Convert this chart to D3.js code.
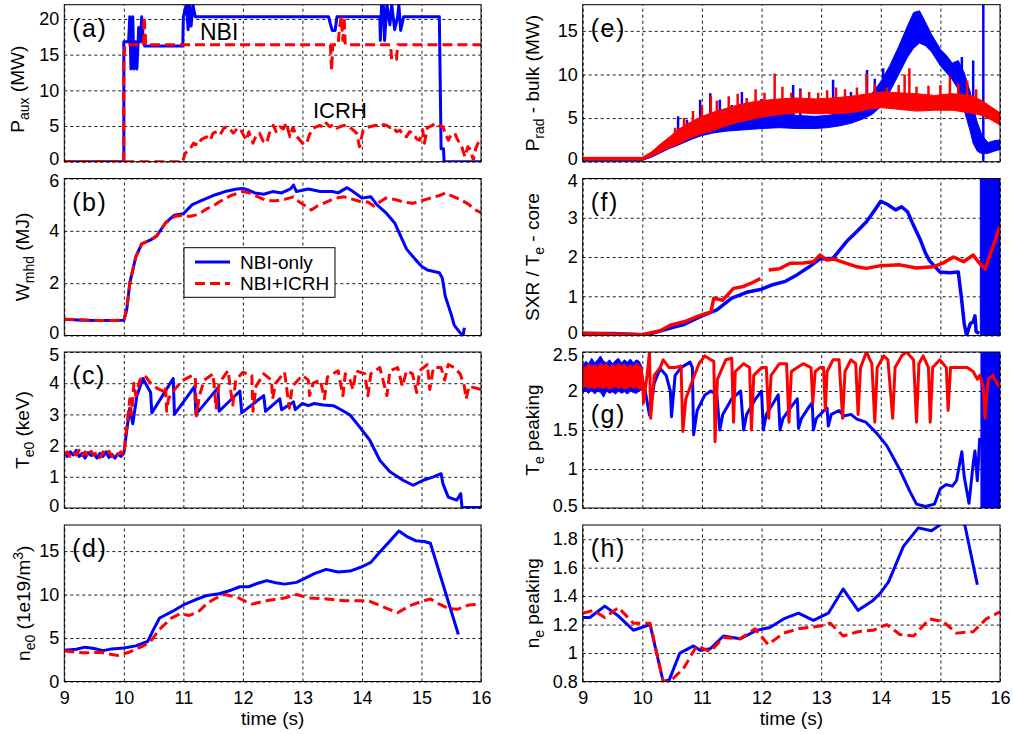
<!DOCTYPE html>
<html>
<head>
<meta charset="utf-8">
<script src="https://cdn.jsdelivr.net/npm/d3@7"></script>
<style>
  body { margin: 0; background: #fff; }
  svg text { font-family: "Liberation Sans", Arial, sans-serif; fill: #000; }
</style>
</head>
<body>
<svg id="fig" width="1013" height="734"></svg>
<script>
const BLUE = "#0000ff", RED = "#ff0000";
const FONT = "Liberation Sans, Arial, sans-serif";

// time axis (s)
const tTicks = [9, 10, 11, 12, 13, 14, 15, 16];

// ---- (a) P_aux ----
const aNbiOnly = [[9,0],[10,0],[10,16.8],[10.08,16.8],[10.1,20.3],[10.12,13],[10.15,20.3],[10.17,13],[10.2,16.8],[10.22,13],[10.25,18.8],[10.28,16.8],[10.3,20.3],[10.33,16.8],[10.35,16.2],[10.99,16.2],[11.0,20.3],[11.05,22],[11.08,18.5],[11.1,22],[11.13,19],[11.16,22],[11.2,20.3],[13.44,20.3],[13.47,19.3],[13.5,18.4],[13.55,18.4],[13.58,20.3],[14.3,20.3],[14.31,17],[14.33,22],[14.36,22],[14.38,17],[14.42,22],[14.47,19.2],[14.5,22],[14.55,18.5],[14.6,20.3],[14.62,22],[14.65,18.4],[14.7,20.3],[15.3,20.3],[15.33,1.8],[15.37,1.8],[15.38,0],[16,0]];
const aNbiIcrh = [[9,0],[10,0],[10,14.3],[10.02,16.4],[10.33,16.4],[10.34,20.3],[10.37,16.4],[13.47,16.4],[13.49,12.8],[13.51,16.4],[13.6,16.4],[13.62,18.5],[13.65,20.3],[13.68,17.0],[13.7,20.3],[13.72,16.4],[14.48,16.4],[14.5,14.3],[14.58,14.3],[14.6,16.4],[16,16.4]];
const aIcrh = [[9,0],[10.99,0],[11.03,1.2],[11.1,1.6],[11.17,2.6],[11.25,2.3],[11.3,3.1],[11.39,3.5],[11.45,3.0],[11.5,4.0],[11.56,4.2],[11.62,3.8],[11.68,4.7],[11.73,4.9],[11.79,4.5],[11.84,4.0],[11.9,4.6],[11.95,4.7],[12.0,3.9],[12.06,3.0],[12.1,4.2],[12.17,2.6],[12.22,3.6],[12.28,4.0],[12.34,2.9],[12.4,2.6],[12.45,4.1],[12.51,5.1],[12.56,4.2],[12.62,4.9],[12.68,4.6],[12.73,5.4],[12.79,3.5],[12.84,4.8],[12.9,3.6],[12.96,3.0],[13.02,2.4],[13.07,2.6],[13.12,3.8],[13.18,4.7],[13.24,4.9],[13.29,5.1],[13.35,4.8],[13.4,5.4],[13.46,4.9],[13.52,5.2],[13.58,4.7],[13.63,4.9],[13.7,5.1],[13.75,4.8],[13.8,4.8],[13.86,4.4],[13.91,4.0],[13.96,2.1],[14.02,4.4],[14.08,4.8],[14.13,4.9],[14.18,5.0],[14.24,5.1],[14.3,4.9],[14.36,5.2],[14.41,5.1],[14.47,4.8],[14.52,4.9],[14.58,4.2],[14.64,4.4],[14.7,3.6],[14.75,3.5],[14.8,4.2],[14.86,4.0],[14.92,3.2],[14.97,3.0],[15.02,4.5],[15.05,2.6],[15.1,4.8],[15.14,4.9],[15.2,5.2],[15.25,5.4],[15.3,5.0],[15.36,4.9],[15.4,4.0],[15.45,3.0],[15.5,3.8],[15.56,4.0],[15.6,3.2],[15.64,2.6],[15.68,2.0],[15.73,0.7],[15.78,2.1],[15.83,1.6],[15.87,0.2],[15.91,1.8],[15.95,2.6],[16,2.9]];

// ---- (b) W_mhd ----
const bNbiOnly = [[9,0.62],[9.3,0.58],[9.6,0.57],[10,0.58],[10.05,1.0],[10.1,2.0],[10.2,3.0],[10.3,3.5],[10.45,3.65],[10.55,3.8],[10.7,4.3],[10.85,4.6],[11.0,4.65],[11.15,5.0],[11.3,5.15],[11.5,5.35],[11.7,5.5],[11.9,5.6],[12.0,5.62],[12.1,5.55],[12.2,5.45],[12.35,5.4],[12.5,5.5],[12.65,5.45],[12.8,5.6],[12.85,5.75],[12.9,5.5],[13.0,5.55],[13.1,5.6],[13.3,5.5],[13.5,5.5],[13.6,5.45],[13.75,5.65],[13.85,5.5],[14.0,5.25],[14.15,5.3],[14.25,5.0],[14.4,4.7],[14.55,4.3],[14.65,3.8],[14.75,3.3],[14.9,2.9],[15.0,2.65],[15.1,2.5],[15.3,2.4],[15.35,2.2],[15.4,1.5],[15.5,0.8],[15.55,0.4],[15.65,0.1],[15.7,0.0],[15.72,0.3]];
const bNbiIcrh = [[9,0.62],[9.3,0.6],[9.6,0.57],[10,0.58],[10.05,1.0],[10.1,2.0],[10.2,3.0],[10.3,3.5],[10.45,3.65],[10.55,3.8],[10.7,4.3],[10.85,4.55],[11.0,4.6],[11.1,4.55],[11.2,4.6],[11.3,4.7],[11.4,4.85],[11.5,4.95],[11.6,5.1],[11.8,5.35],[12.0,5.5],[12.1,5.45],[12.2,5.35],[12.3,5.25],[12.4,5.15],[12.55,5.15],[12.7,5.2],[12.85,5.3],[12.95,5.1],[13.05,4.95],[13.15,4.8],[13.25,4.95],[13.4,5.1],[13.55,5.25],[13.7,5.3],[13.85,5.2],[14.0,5.1],[14.1,5.1],[14.2,4.95],[14.3,5.1],[14.4,5.25],[14.55,5.2],[14.7,5.1],[14.85,5.05],[15.0,5.15],[15.15,5.25],[15.3,5.35],[15.4,5.45],[15.5,5.35],[15.65,5.2],[15.8,5.0],[15.9,4.8],[16.0,4.7]];

// ---- (c) T_e0 ----
const cNbiOnly = [[9,1.75],[9.05,1.65],[9.1,1.8],[9.15,1.7],[9.2,1.85],[9.25,1.65],[9.3,1.75],[9.35,1.6],[9.4,1.78],[9.45,1.68],[9.5,1.72],[9.55,1.6],[9.6,1.75],[9.65,1.65],[9.7,1.8],[9.75,1.62],[9.8,1.72],[9.85,1.6],[9.9,1.74],[9.95,1.65],[10.0,1.75],[10.05,2.5],[10.1,3.2],[10.15,2.7],[10.22,3.6],[10.32,4.15],[10.45,3.7],[10.47,3.05],[10.83,4.15],[10.85,3.0],[11.19,3.9],[11.21,3.0],[11.58,3.85],[11.6,3.1],[11.95,3.75],[11.98,3.05],[12.35,3.6],[12.38,3.1],[12.62,3.5],[12.65,3.15],[12.85,3.4],[12.88,3.15],[13.0,3.35],[13.1,3.28],[13.2,3.35],[13.35,3.3],[13.52,3.28],[13.65,3.15],[13.8,2.98],[13.96,2.6],[14.13,2.18],[14.3,1.53],[14.47,1.16],[14.69,0.89],[14.86,0.73],[15.03,0.89],[15.2,1.0],[15.33,1.1],[15.36,0.78],[15.45,0.35],[15.59,0.25],[15.66,0.46],[15.68,0.02],[16,0.02]];
const cNbiIcrh = [[9,1.7],[9.05,1.8],[9.1,1.65],[9.15,1.78],[9.2,1.7],[9.25,1.85],[9.3,1.68],[9.35,1.8],[9.4,1.65],[9.45,1.82],[9.5,1.7],[9.55,1.78],[9.6,1.62],[9.65,1.8],[9.7,1.7],[9.75,1.82],[9.8,1.65],[9.85,1.78],[9.9,1.7],[9.95,1.8],[10.0,1.7],[10.05,2.6],[10.1,3.5],[10.13,3.0],[10.17,4.0],[10.2,3.6],[10.27,4.1],[10.35,4.25],[10.45,4.0],[10.55,3.85],[10.65,3.75],[10.7,3.9],[10.72,3.1],[10.75,3.5],[10.85,3.8],[11.0,4.1],[11.15,4.25],[11.2,4.2],[11.22,2.95],[11.27,3.6],[11.35,4.1],[11.5,4.3],[11.55,3.2],[11.6,4.0],[11.75,4.4],[11.83,3.3],[11.88,4.1],[12.0,4.35],[12.15,4.25],[12.17,3.1],[12.22,3.9],[12.35,4.3],[12.48,4.1],[12.5,3.5],[12.55,4.0],[12.7,4.35],[12.78,3.2],[12.83,3.9],[13.0,4.25],[13.1,4.1],[13.12,3.6],[13.18,4.0],[13.3,4.1],[13.37,3.5],[13.42,4.2],[13.6,4.4],[13.68,3.6],[13.72,4.3],[13.8,4.1],[13.85,3.8],[13.9,4.4],[14.05,4.3],[14.1,3.6],[14.15,4.3],[14.3,4.5],[14.42,3.6],[14.47,4.4],[14.6,4.5],[14.68,3.9],[14.75,4.4],[14.85,4.3],[14.92,3.7],[14.97,4.4],[15.1,4.6],[15.14,3.8],[15.2,4.5],[15.33,4.5],[15.39,4.1],[15.45,4.6],[15.55,4.5],[15.65,4.3],[15.72,3.9],[15.75,3.5],[15.8,3.9],[15.9,3.85],[16,3.8]];

// ---- (d) n_e0 ----
const dNbiOnly = [[9.0,3.6],[9.2,3.7],[9.35,3.95],[9.5,3.8],[9.65,3.55],[9.8,3.75],[10.0,3.85],[10.2,4.1],[10.4,4.6],[10.5,6.0],[10.6,7.3],[10.8,8.0],[11.0,8.8],[11.2,9.4],[11.4,9.9],[11.6,10.1],[11.8,10.5],[11.95,10.9],[12.1,10.9],[12.25,11.3],[12.4,11.6],[12.55,11.35],[12.7,11.2],[12.9,11.4],[13.05,11.9],[13.2,12.4],[13.4,12.9],[13.6,12.6],[13.8,12.7],[14.0,13.2],[14.15,13.7],[14.3,14.9],[14.45,16.0],[14.62,17.3],[14.75,16.7],[14.9,16.2],[15.05,16.1],[15.15,15.9],[15.62,5.4]];
const dNbiIcrh = [[9.0,3.5],[9.3,3.3],[9.6,3.35],[9.9,3.0],[10.1,3.4],[10.3,4.0],[10.45,4.6],[10.6,6.0],[10.8,7.3],[10.95,7.8],[11.1,7.6],[11.25,8.0],[11.4,9.0],[11.55,9.6],[11.7,10.0],[11.9,9.7],[12.05,9.2],[12.15,8.9],[12.4,9.3],[12.7,9.6],[12.9,10.0],[13.1,9.6],[13.4,9.5],[13.7,9.3],[14.1,9.3],[14.35,8.6],[14.6,7.9],[14.8,8.7],[15.0,9.2],[15.15,9.5],[15.3,8.9],[15.45,8.4],[15.6,8.3],[15.8,8.8],[16.0,8.9]];

// ---- (e) P_rad bulk : [t, low, high] envelopes and spikes ----
const eNbiBand = [[9,0.15,0.45],[10,0.15,0.45],[10.15,0.5,1.0],[10.3,1.0,1.9],[10.45,1.5,2.6],[10.6,1.9,3.4],[10.8,2.5,4.0],[11.0,3.0,4.5],[11.2,3.3,4.8],[11.4,3.5,5.0],[11.6,3.6,5.2],[11.8,3.7,5.3],[12.0,3.8,5.5],[12.3,3.9,5.6],[12.6,3.8,5.3],[12.9,3.8,5.2],[13.1,3.9,5.3],[13.3,4.1,5.5],[13.5,4.4,5.9],[13.7,4.9,6.8],[13.85,5.4,7.8],[14.0,6.3,9.2],[14.15,8.0,11.0],[14.3,10.0,13.2],[14.45,12.0,15.6],[14.55,13.0,17.1],[14.65,13.6,17.3],[14.75,13.3,16.0],[14.85,12.6,14.6],[15.0,11.0,12.9],[15.1,10.2,12.2],[15.2,9.4,11.3],[15.3,8.3,11.6],[15.4,5.9,10.2],[15.5,3.5,8.0],[15.55,2.1,6.2],[15.62,1.2,4.5],[15.7,0.9,3.0],[15.8,0.96,2.2],[15.9,1.2,2.4],[16,1.4,2.5]];
const eIcrhBand = [[9,0.2,0.5],[10,0.2,0.5],[10.15,0.6,1.1],[10.3,1.1,2.0],[10.45,1.6,2.8],[10.6,2.0,3.7],[10.8,2.7,4.5],[11.0,3.2,5.2],[11.2,3.6,5.7],[11.4,4.1,6.1],[11.6,4.5,6.5],[11.8,4.8,6.8],[12.0,5.1,7.0],[12.3,5.4,7.2],[12.6,5.6,7.3],[12.9,5.5,7.2],[13.2,5.5,7.3],[13.5,5.6,7.5],[13.8,6.0,7.8],[14.0,6.2,8.0],[14.3,6.0,7.9],[14.6,5.8,7.8],[14.9,5.9,7.6],[15.2,5.9,7.8],[15.5,5.6,7.6],[15.7,5.3,7.0],[15.85,4.8,6.3],[16,4.2,5.6]];
const eNbiSpikes = [[10.6,3,5.2],[10.75,3.5,4.8],[10.97,4,7.1],[11.14,4.5,7.85],[11.3,4.5,7.1],[11.5,4.8,6.5],[11.67,5,8.0],[12.0,5,7.2],[12.53,5,8.8],[12.65,5,8.4],[13.2,5,9.4],[13.5,5.5,8.0],[13.77,6,10.5],[13.9,6,9.5],[14.04,8,10.7],[15.36,10,12.0],[15.55,6,11.6],[15.72,0,18.5]];
const eIcrhSpikes = [[10.55,2.5,3.9],[10.7,3,5.0],[10.85,3.5,5.8],[11.0,4,6.5],[11.15,4.5,7.5],[11.25,4.5,7.0],[11.45,5,7.5],[11.6,5,7.8],[11.75,5.5,7.3],[11.9,5.5,8.3],[12.05,6,7.9],[12.22,6,10.1],[12.35,6,8.6],[12.5,6,7.9],[12.65,6,8.2],[12.8,6,8.0],[12.95,6,7.9],[13.1,6,8.2],[13.25,6,8.5],[13.4,6,8.3],[13.6,6,8.5],[13.76,6.5,10.1],[13.9,6.5,8.9],[14.1,6.5,8.5],[14.3,6.5,8.8],[14.4,6.5,10.0],[14.48,6.5,10.7],[14.6,6.5,8.6],[14.8,6.5,8.7],[15.0,6.5,8.8],[15.16,6.5,9.7],[15.3,6.5,9.0],[15.45,6.5,9.3],[15.6,6.5,8.3]];

// ---- (f) SXR / Te core ----
const fNbiOnly = [[9,0.05],[9.5,0.05],[10,0.02],[10.15,0.05],[10.5,0.2],[10.7,0.28],[11.0,0.5],[11.25,0.65],[11.5,0.95],[11.75,1.1],[12.0,1.18],[12.2,1.3],[12.4,1.38],[12.6,1.55],[12.8,1.75],[12.98,1.95],[13.2,1.97],[13.43,2.4],[13.6,2.65],[13.76,2.9],[13.9,3.2],[14.0,3.42],[14.1,3.35],[14.25,3.2],[14.35,3.28],[14.45,3.15],[14.55,2.8],[14.66,2.45],[14.75,2.1],[14.82,1.9],[14.99,1.62],[15.15,1.6],[15.3,1.62],[15.35,1.0],[15.4,0.3],[15.44,0.0],[15.5,0.3],[15.55,0.35],[15.58,0.5],[15.6,0.1],[15.65,0.05]];
const fNbiIcrh = [[9,0.06],[9.5,0.04],[10,0.02],[10.3,0.12],[10.47,0.26],[10.7,0.35],[10.97,0.51],[11.15,0.6],[11.2,0.95],[11.35,0.9],[11.53,1.2],[11.7,1.25],[11.85,1.35],[11.98,1.45],[12.05,null],[12.12,1.67],[12.3,1.7],[12.48,1.84],[12.7,1.85],[12.87,1.88],[12.98,2.05],[13.1,1.92],[13.2,1.95],[13.4,1.85],[13.6,1.75],[13.76,1.71],[14.0,1.78],[14.32,1.8],[14.6,1.72],[14.88,1.75],[15.05,1.85],[15.22,2.0],[15.39,1.88],[15.55,2.05],[15.65,1.85],[15.75,1.69],[15.89,2.3],[16,2.78]];
const fNbiBurst = [[15.67,0,4.1],[16,0,4.1]];

// ---- (g) Te peaking ----
const gNbiNoise = [[9,1.98,2.32],[9.05,2.0,2.38],[9.1,1.97,2.35],[9.15,2.01,2.42],[9.2,1.96,2.36],[9.25,2.0,2.4],[9.3,1.98,2.45],[9.35,1.92,2.38],[9.4,2.0,2.36],[9.45,1.97,2.4],[9.5,1.99,2.35],[9.55,1.96,2.39],[9.6,2.0,2.42],[9.65,1.97,2.36],[9.7,1.99,2.4],[9.75,1.96,2.37],[9.8,2.0,2.41],[9.85,1.98,2.36],[9.9,1.97,2.4],[9.95,2.0,2.38],[10,2.02,2.3]];
const gIcrhNoise = [[9,2.04,2.33],[9.05,2.06,2.3],[9.1,2.03,2.35],[9.15,2.05,2.31],[9.2,2.02,2.34],[9.25,2.06,2.3],[9.3,2.04,2.36],[9.35,2.03,2.32],[9.4,2.05,2.35],[9.45,2.02,2.3],[9.5,2.04,2.34],[9.55,2.06,2.31],[9.6,2.03,2.36],[9.65,2.05,2.32],[9.7,2.02,2.35],[9.75,2.04,2.3],[9.8,2.06,2.34],[9.85,2.03,2.31],[9.9,2.05,2.36],[9.95,2.02,2.33],[10,2.05,2.3]];
const gNbiOnly = [[10.0,2.15],[10.05,2.0],[10.12,1.69],[10.2,2.1],[10.3,2.29],[10.4,2.2],[10.47,2.0],[10.49,1.67],[10.55,2.2],[10.65,2.3],[10.8,2.37],[10.84,2.3],[10.86,1.44],[10.92,1.75],[11.05,1.95],[11.15,2.0],[11.25,1.95],[11.3,1.5],[11.35,1.7],[11.5,1.9],[11.65,2.0],[11.7,1.5],[11.75,1.7],[11.9,1.9],[12.0,2.0],[12.03,1.5],[12.08,1.7],[12.2,1.85],[12.28,1.95],[12.31,1.5],[12.36,1.65],[12.5,1.8],[12.6,1.9],[12.62,1.52],[12.67,1.65],[12.8,1.8],[12.85,1.85],[12.87,1.5],[12.92,1.65],[13.05,1.75],[13.1,1.78],[13.12,1.55],[13.17,1.7],[13.3,1.75],[13.38,1.68],[13.5,1.7],[13.6,1.64],[13.75,1.6],[13.93,1.46],[14.1,1.3],[14.32,0.99],[14.49,0.71],[14.6,0.55],[14.75,0.52],[14.9,0.55],[15.0,0.75],[15.1,0.8],[15.2,0.78],[15.27,0.85],[15.36,1.22],[15.4,0.9],[15.48,0.56],[15.55,1.07],[15.58,1.23],[15.62,0.85],[15.66,1.4]];
const gNbiIcrh = [[10.0,2.2],[10.02,1.85],[10.08,2.2],[10.12,2.5],[10.14,1.65],[10.2,2.2],[10.3,2.3],[10.35,2.4],[10.45,2.3],[10.55,2.3],[10.65,2.32],[10.68,1.48],[10.73,1.9],[10.85,2.15],[10.95,2.35],[11.05,2.45],[11.15,2.4],[11.2,2.38],[11.22,1.35],[11.26,2.15],[11.4,2.4],[11.5,2.42],[11.53,1.6],[11.56,2.25],[11.7,2.35],[11.8,2.3],[11.83,1.5],[11.87,2.2],[12.0,2.3],[12.08,2.3],[12.12,1.65],[12.16,2.2],[12.3,2.35],[12.42,2.35],[12.46,1.6],[12.5,2.25],[12.6,2.3],[12.7,2.35],[12.83,2.3],[12.86,1.85],[12.9,2.25],[12.98,2.3],[13.04,2.3],[13.07,1.75],[13.1,2.25],[13.2,2.4],[13.3,2.4],[13.36,1.65],[13.4,2.25],[13.5,2.4],[13.58,2.35],[13.62,1.7],[13.66,2.3],[13.76,2.5],[13.85,2.35],[13.9,1.6],[13.94,2.3],[14.05,2.45],[14.12,2.4],[14.2,1.65],[14.24,2.3],[14.35,2.45],[14.43,2.5],[14.55,2.4],[14.6,1.6],[14.64,2.35],[14.71,2.45],[14.8,2.3],[14.83,1.6],[14.87,2.3],[14.99,2.4],[15.1,2.3],[15.13,1.75],[15.17,2.3],[15.3,2.3],[15.45,2.3],[15.55,2.25],[15.62,2.15],[15.66,2.2],[15.72,2.05],[15.75,1.65],[15.8,2.15],[15.88,2.2],[15.95,2.1],[16,2.05]];
const gNbiBurst = [[15.68,0.5,2.5],[16,0.5,2.5]];

// ---- (h) ne peaking ----
const hNbiOnly = [[9.0,1.25],[9.12,1.25],[9.37,1.33],[9.6,1.26],[9.85,1.16],[10.13,1.2],[10.35,0.8],[10.45,0.81],[10.63,1.0],[10.86,1.05],[10.97,1.02],[11.14,1.03],[11.36,1.12],[11.64,1.1],[11.92,1.16],[12.14,1.18],[12.37,1.24],[12.62,1.28],[12.87,1.23],[13.12,1.28],[13.37,1.45],[13.62,1.3],[13.87,1.37],[13.99,1.42],[14.13,1.5],[14.38,1.75],[14.63,1.88],[14.85,1.86],[14.99,1.9],[15.2,1.96],[15.41,1.9],[15.62,1.48]];
const hNbiIcrh = [[9.0,1.28],[9.18,1.3],[9.37,1.25],[9.6,1.32],[9.85,1.21],[10.13,1.21],[10.35,0.8],[10.46,0.8],[10.69,0.89],[10.91,1.05],[11.14,1.01],[11.36,1.11],[11.64,1.1],[11.89,1.17],[12.11,1.06],[12.37,1.14],[12.62,1.17],[12.98,1.19],[13.15,1.21],[13.37,1.12],[13.62,1.15],[13.87,1.16],[14.1,1.2],[14.32,1.13],[14.55,1.12],[14.82,1.24],[15.05,1.22],[15.27,1.14],[15.55,1.15],[15.77,1.24],[16.0,1.29]];

// panel layout
const colX = [[64.3, 481], [582.7, 1000]];
const rowY = [[4.7, 161.7], [178.5, 335.5], [352, 508], [525, 681.5]];

const panels = [
  { tag: "(a)", col: 0, row: 0, y: [0, 22], ticks: [0,5,10,15,20], lx: 24, shift: 6,
    label: [["P"], ["aux", "sub"], [" (MW)"]],
    layers: [{ line: aNbiOnly, c: BLUE }, { line: aIcrh, c: RED, dash: true }, { line: aNbiIcrh, c: RED, dash: true }] },
  { tag: "(b)", col: 0, row: 1, y: [0, 6], ticks: [0,2,4,6], lx: 29,
    label: [["W"], ["mhd", "sub"], [" (MJ)"]],
    layers: [{ line: bNbiOnly, c: BLUE }, { line: bNbiIcrh, c: RED, dash: true }] },
  { tag: "(c)", col: 0, row: 2, y: [0, 5], ticks: [0,1,2,3,4,5], lx: 29,
    label: [["T"], ["e0", "sub"], [" (keV)"]],
    layers: [{ line: cNbiOnly, c: BLUE }, { line: cNbiIcrh, c: RED, dash: true }] },
  { tag: "(d)", col: 0, row: 3, y: [0, 18], ticks: [0,5,10,15], lx: 30,
    label: [["n"], ["e0", "sub"], [" (1e19/m"], ["3", "sup"], [")"]],
    layers: [{ line: dNbiOnly, c: BLUE }, { line: dNbiIcrh, c: RED, dash: true }] },
  { tag: "(e)", col: 1, row: 0, y: [0, 18], ticks: [0,5,10,15], lx: 539,
    label: [["P"], ["rad", "sub"], [" - bulk (MW)"]],
    layers: [{ band: eNbiBand, c: BLUE }, { spikes: eNbiSpikes, c: BLUE }, { band: eIcrhBand, c: RED }, { spikes: eIcrhSpikes, c: RED }] },
  { tag: "(f)", col: 1, row: 1, y: [0, 4], ticks: [0,1,2,3,4], lx: 539,
    label: [["SXR / T"], ["e", "sub"], [" - core"]],
    layers: [{ line: fNbiOnly, c: BLUE, w: 3.5 }, { band: fNbiBurst, c: BLUE }, { line: fNbiIcrh, c: RED, w: 3.5 }] },
  { tag: "(g)", col: 1, row: 2, y: [0.5, 2.5], ticks: [0.5,1,1.5,2,2.5], lx: 539, tagDy: 71,
    label: [["T"], ["e", "sub"], [" peaking"]],
    layers: [{ band: gNbiNoise, c: BLUE }, { line: gNbiOnly, c: BLUE }, { band: gNbiBurst, c: BLUE }, { band: gIcrhNoise, c: RED }, { line: gNbiIcrh, c: RED }] },
  { tag: "(h)", col: 1, row: 3, y: [0.8, 1.9], ticks: [0.8,1,1.2,1.4,1.6,1.8], lx: 539,
    label: [["n"], ["e", "sub"], [" peaking"]],
    layers: [{ line: hNbiOnly, c: BLUE }, { line: hNbiIcrh, c: RED, dash: true }] }
];

const svg = d3.select("#fig");
const fmt = d3.format("~g");

panels.forEach((p, i) => {
  const [x0, x1] = colX[p.col];
  const [y0, y1] = rowY[p.row];
  const x = d3.scaleLinear().domain([9, 16]).range([x0, x1]);
  const y = d3.scaleLinear().domain(p.y).range([y1, y0]);
  const g = svg.append("g");

  // grid via axes
  const ya = g.append("g").attr("transform", `translate(${x0},0)`)
    .call(d3.axisLeft(y).tickValues(p.ticks).tickSize(-(x1 - x0)).tickPadding(5).tickFormat(fmt));
  const xa = g.append("g").attr("transform", `translate(0,${y1})`)
    .call(d3.axisBottom(x).tickValues(tTicks).tickSize(-(y1 - y0)).tickPadding(10)
      .tickFormat(p.row === 3 ? fmt : () => ""));
  [ya, xa].forEach(a => {
    a.attr("font-size", 18).attr("font-family", FONT);
    a.select(".domain").remove();
    a.selectAll(".tick line").attr("stroke", "#000").attr("stroke-width", 0.9).attr("stroke-dasharray", "3,3");
    a.selectAll(".tick text").attr("fill", "#000");
  });
  // nudge labels at stacked panel edges apart so neighbours don't collide
  const lo = p.y[0], hi = p.y[1];
  ya.selectAll(".tick text").attr("y", d => {
    if (d === lo && p.row < 3) return -2.5;
    if (d === hi && p.row > 0) return 2.5;
    return 0;
  });

  svg.append("clipPath").attr("id", "clip" + i).append("rect")
    .attr("x", x0).attr("y", y0).attr("width", x1 - x0).attr("height", y1 - y0);
  const plot = g.append("g").attr("clip-path", `url(#clip${i})`);

  const line = d3.line().defined(d => d[1] != null).x(d => x(d[0])).y(d => y(d[1]));
  const area = d3.area().x(d => x(d[0])).y0(d => y(d[1])).y1(d => y(d[2]));

  p.layers.forEach(L => {
    if (L.line) {
      plot.append("path").attr("d", line(L.line)).attr("fill", "none")
        .attr("stroke", L.c).attr("stroke-width", L.w || 3)
        .attr("stroke-linejoin", "round")
        .attr("stroke-dasharray", L.dash ? "10,5" : null);
    } else if (L.band) {
      plot.append("path").attr("d", area(L.band)).attr("fill", L.c)
        .attr("stroke", L.c).attr("stroke-width", 1);
    } else if (L.spikes) {
      plot.selectAll(null).data(L.spikes).join("line")
        .attr("x1", d => x(d[0])).attr("x2", d => x(d[0]))
        .attr("y1", d => y(d[1])).attr("y2", d => y(d[2]))
        .attr("stroke", L.c).attr("stroke-width", 2.5);
    }
  });

  // frame
  g.append("rect").attr("x", x0).attr("y", y0).attr("width", x1 - x0).attr("height", y1 - y0)
    .attr("fill", "none").attr("stroke", "#000").attr("stroke-width", 1);

  // panel tag
  g.append("text").attr("x", x0 + 8).attr("y", y0 + (p.tagDy || 32))
    .attr("font-size", 25).attr("letter-spacing", 1.5).text(p.tag);

  // y label
  const cy = (y0 + y1) / 2 + (p.shift || 0);
  const t = g.append("text").attr("text-anchor", "middle").attr("font-size", 19)
    .attr("transform", `translate(${p.lx},${cy}) rotate(-90)`);
  let off = 0;
  p.label.forEach(([s, kind]) => {
    const sp = t.append("tspan").text(s);
    let want = kind === "sub" ? 5 : kind === "sup" ? -7 : 0;
    sp.attr("dy", want - off);
    off = want;
    if (kind) sp.attr("font-size", 14);
  });

  if (p.row === 3) {
    g.append("text").attr("x", (x0 + x1) / 2).attr("y", 725).attr("text-anchor", "middle")
      .attr("font-size", 19).text("time (s)");
  }
});

// annotations in (a)
svg.append("text").attr("x", 200).attr("y", 40).attr("font-size", 23).text("NBI");
svg.append("text").attr("x", 313).attr("y", 118).attr("font-size", 22).text("ICRH");

// legend in (b)
const leg = svg.append("g");
leg.append("rect").attr("x", 184).attr("y", 247.7).attr("width", 151).attr("height", 49.6)
  .attr("fill", "#fff").attr("stroke", "#000").attr("stroke-width", 1);
const legItems = [["NBI-only", BLUE, null], ["NBI+ICRH", RED, "10,5"]];
legItems.forEach(([name, c, dash], k) => {
  const yy = 262 + k * 21.5;
  leg.append("line").attr("x1", 195).attr("x2", 230).attr("y1", yy).attr("y2", yy)
    .attr("stroke", c).attr("stroke-width", 3).attr("stroke-dasharray", dash);
  leg.append("text").attr("x", 240).attr("y", yy + 6.5).attr("font-size", 19).text(name);
});
</script>
</body>
</html>
